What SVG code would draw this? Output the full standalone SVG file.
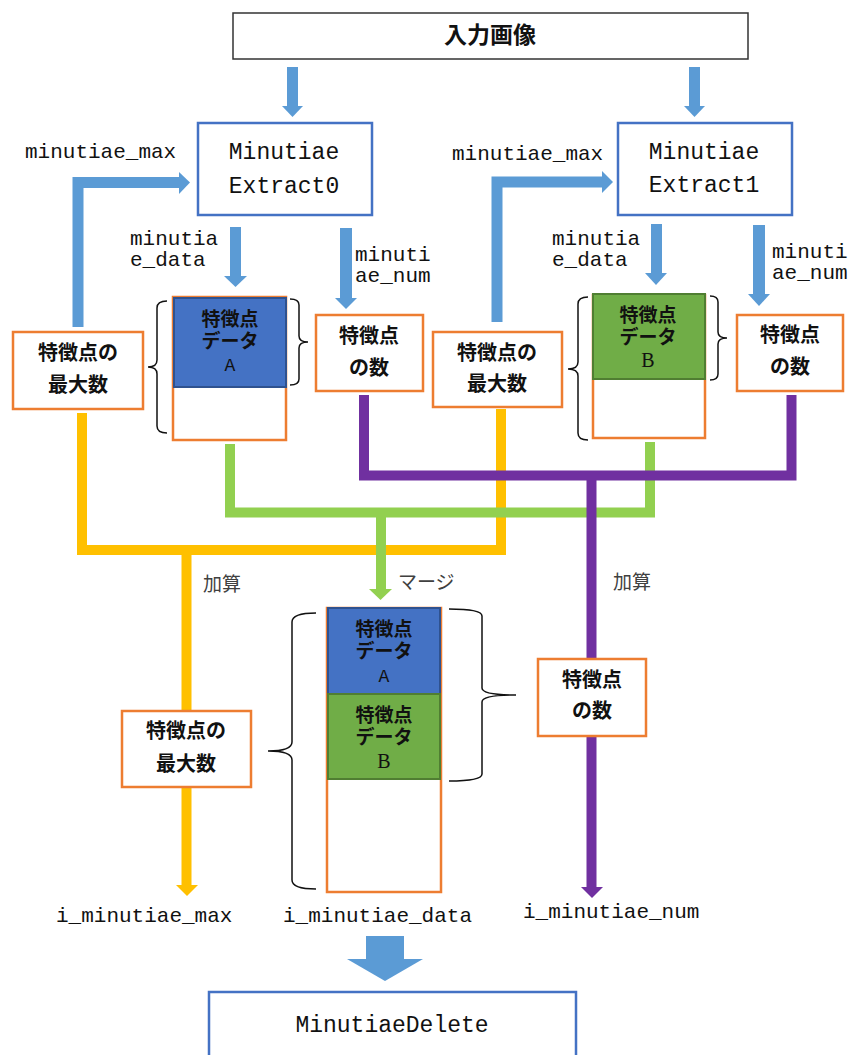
<svg xmlns="http://www.w3.org/2000/svg" width="851" height="1055" viewBox="0 0 851 1055">
<defs>
<style>
.mono{font-family:"Liberation Mono",monospace;font-size:21px;fill:#111}
.big{font-size:23px}
.jp{font-family:"Noto Sans CJK JP",sans-serif;font-weight:bold;font-size:20px;fill:#111}
.jd{font-family:"Liberation Sans","Noto Sans CJK JP",sans-serif;font-size:19px}
.lbl{font-family:"Noto Sans CJK JP",sans-serif;font-size:19px;fill:#404040}
.ob{fill:#fff;stroke:#ED7D31;stroke-width:2.5}
.bb{fill:#fff;stroke:#4472C4;stroke-width:2.5}
.blue{fill:#4472C4;stroke:#2F528F;stroke-width:2}
.green{fill:#70AD47;stroke:#507E32;stroke-width:2}
.brace{fill:none;stroke:#111;stroke-width:1.5}
.ba{fill:#5B9BD5}
.bs{fill:none;stroke:#5B9BD5;stroke-width:11}
.y{fill:none;stroke:#FFC000;stroke-width:10}
.g{fill:none;stroke:#92D050;stroke-width:10}
.p{fill:none;stroke:#7030A0;stroke-width:10}
.serifB{font-family:"Liberation Serif",serif;font-size:20px;fill:#111}
</style>
</defs>
<rect width="851" height="1055" fill="#fff"/>

<g id="connectors">
  <rect class="ba" x="287" y="67" width="11" height="40"/>
  <polygon class="ba" points="282,106 303,106 292.5,117"/>
  <rect class="ba" x="689" y="67" width="11" height="40"/>
  <polygon class="ba" points="684,106 705,106 694.5,117"/>
  <polyline class="bs" points="78,327 78,182.5 180,182.5"/>
  <polygon class="ba" points="179,172 190,182.5 179,194"/>
  <polyline class="bs" points="497,322 497,182 603,182"/>
  <polygon class="ba" points="602,171 613,182 602,193"/>
  <rect class="ba" x="230" y="227" width="11" height="50"/>
  <polygon class="ba" points="224,276 247,276 235.5,287"/>
  <rect class="ba" x="340" y="228" width="12" height="71"/>
  <polygon class="ba" points="335,298 357,298 346,309"/>
  <rect class="ba" x="651" y="224" width="11" height="50"/>
  <polygon class="ba" points="645,273 667,273 656,285"/>
  <rect class="ba" x="753" y="225" width="12" height="70"/>
  <polygon class="ba" points="748,294 770,294 759,306"/>
  <polyline class="y" points="82,413 82,550 501,550 501,409"/>
  <polyline class="y" points="186.5,550 186.5,886"/>
  <polygon fill="#FFC000" points="176,885 198,885 187,896"/>
  <polyline class="g" points="230,444 230,512.5 650,512.5 650,442"/>
  <polyline class="g" points="381,512 381,590"/>
  <polygon fill="#92D050" points="369,589 392,589 380.5,600"/>
  <polyline class="p" points="364,395 364,475.5 791.5,475.5 791.5,395"/>
  <polyline class="p" points="591.5,475 591.5,888"/>
  <polygon fill="#7030A0" points="581,887 603,887 592,898"/>
  <rect class="ba" x="366" y="936" width="38" height="24"/>
  <polygon class="ba" points="347,959 423,959 385,981"/>
</g>

<g id="input">
  <rect x="233" y="13" width="515" height="46" fill="#fff" stroke="#333" stroke-width="1.5"/>
  <text class="jp" x="490" y="43" text-anchor="middle" style="font-size:23px">入力画像</text>
</g>

<g id="extract0">
  <rect class="bb" x="198" y="123" width="174" height="92"/>
  <text class="mono big" x="284" y="159" text-anchor="middle">Minutiae</text>
  <text class="mono big" x="284" y="193" text-anchor="middle">Extract0</text>
</g>
<g id="extract1">
  <rect class="bb" x="618" y="123" width="174" height="92"/>
  <text class="mono big" x="704" y="159" text-anchor="middle">Minutiae</text>
  <text class="mono big" x="704" y="192" text-anchor="middle">Extract1</text>
</g>

<g id="labels">
  <text class="mono" x="25" y="158">minutiae_max</text>
  <text class="mono" x="452" y="160">minutiae_max</text>
  <text class="mono" x="130" y="245">minutia</text>
  <text class="mono" x="130" y="266">e_data</text>
  <text class="mono" x="355" y="261">minuti</text>
  <text class="mono" x="355" y="282">ae_num</text>
  <text class="mono" x="552" y="245">minutia</text>
  <text class="mono" x="552" y="266">e_data</text>
  <text class="mono" x="772" y="258">minuti</text>
  <text class="mono" x="772" y="279">ae_num</text>
  <text class="lbl" x="203" y="591">加算</text>
  <text class="lbl" x="398" y="589">マージ</text>
  <text class="lbl" x="613" y="589">加算</text>
  <text class="mono" x="56" y="922">i_minutiae_max</text>
  <text class="mono" x="283" y="922">i_minutiae_data</text>
  <text class="mono" x="523" y="918">i_minutiae_num</text>
</g>

<g id="max0">
  <rect class="ob" x="13" y="332" width="130" height="77"/>
  <text class="jp" x="78" y="360" text-anchor="middle">特徴点の</text>
  <text class="jp" x="78" y="392" text-anchor="middle">最大数</text>
</g>
<g id="dataA">
  <rect class="ob" x="173" y="297" width="113" height="143"/>
  <rect class="blue" x="174" y="298" width="112" height="89"/>
  <text class="jp jd" x="230" y="325.5" text-anchor="middle">特徴点</text>
  <text class="jp jd" x="230" y="347.5" text-anchor="middle">データ</text>
  <text class="mono" x="230" y="371" text-anchor="middle" style="font-size:18px">A</text>
  <path class="brace" d="M167,301 Q157,301 157,308 L157,360 Q157,367 148,367 Q157,367 157,374 L157,426 Q157,433 167,433"/>
  <path class="brace" d="M290,299 Q299,299 299,305 L299,336 Q299,342 308,342 Q299,342 299,348 L299,379 Q299,385 290,385"/>
</g>
<g id="num0">
  <rect class="ob" x="316" y="315" width="107" height="76"/>
  <text class="jp" x="369" y="343" text-anchor="middle">特徴点</text>
  <text class="jp" x="369" y="375" text-anchor="middle">の数</text>
</g>

<g id="max1">
  <rect class="ob" x="433" y="332" width="129" height="75"/>
  <text class="jp" x="497" y="360" text-anchor="middle">特徴点の</text>
  <text class="jp" x="497" y="391" text-anchor="middle">最大数</text>
</g>
<g id="dataB">
  <rect class="ob" x="593" y="295" width="112" height="143"/>
  <rect class="green" x="593" y="294" width="112" height="85"/>
  <text class="jp jd" x="648" y="321.5" text-anchor="middle">特徴点</text>
  <text class="jp jd" x="648" y="343.5" text-anchor="middle">データ</text>
  <text class="serifB" x="648" y="367" text-anchor="middle">B</text>
  <path class="brace" d="M588,297 Q578,297 578,304 L578,362 Q578,369 568,369 Q578,369 578,376 L578,433 Q578,440 588,440"/>
  <path class="brace" d="M710,296 Q718,296 718,302 L718,332 Q718,338 727,338 Q718,338 718,344 L718,374 Q718,380 710,380"/>
</g>
<g id="num1">
  <rect class="ob" x="737" y="315" width="106" height="76"/>
  <text class="jp" x="790" y="342" text-anchor="middle">特徴点</text>
  <text class="jp" x="790" y="374" text-anchor="middle">の数</text>
</g>

<g id="maxOut">
  <rect class="ob" x="122" y="711" width="129" height="76"/>
  <text class="jp" x="186" y="738" text-anchor="middle">特徴点の</text>
  <text class="jp" x="186" y="771" text-anchor="middle">最大数</text>
</g>
<g id="dataMerged">
  <rect class="ob" x="327" y="608" width="114" height="284"/>
  <rect class="blue" x="328" y="608" width="112" height="86"/>
  <rect class="green" x="328" y="694" width="112" height="85"/>
  <text class="jp jd" x="384" y="636" text-anchor="middle">特徴点</text>
  <text class="jp jd" x="384" y="658" text-anchor="middle">データ</text>
  <text class="mono" x="384" y="682" text-anchor="middle" style="font-size:18px">A</text>
  <text class="jp jd" x="384" y="721.5" text-anchor="middle">特徴点</text>
  <text class="jp jd" x="384" y="743.5" text-anchor="middle">データ</text>
  <text class="serifB" x="384" y="768" text-anchor="middle">B</text>
  <path class="brace" d="M316,613 Q292,613 292,622 L292,742 Q292,751 268,751 Q292,751 292,760 L292,880 Q292,889 316,889"/>
  <path class="brace" d="M449,609 Q482,609 482,616 L482,688 Q482,695 516,695 Q482,695 482,702 L482,774 Q482,781 449,781"/>
</g>
<g id="numOut">
  <rect class="ob" x="538" y="659" width="108" height="77"/>
  <text class="jp" x="592" y="687" text-anchor="middle">特徴点</text>
  <text class="jp" x="592" y="718" text-anchor="middle">の数</text>
</g>

<g id="delete">
  <rect class="bb" x="209" y="992" width="367" height="80"/>
  <text class="mono big" x="392" y="1032" text-anchor="middle">MinutiaeDelete</text>
</g>
</svg>
